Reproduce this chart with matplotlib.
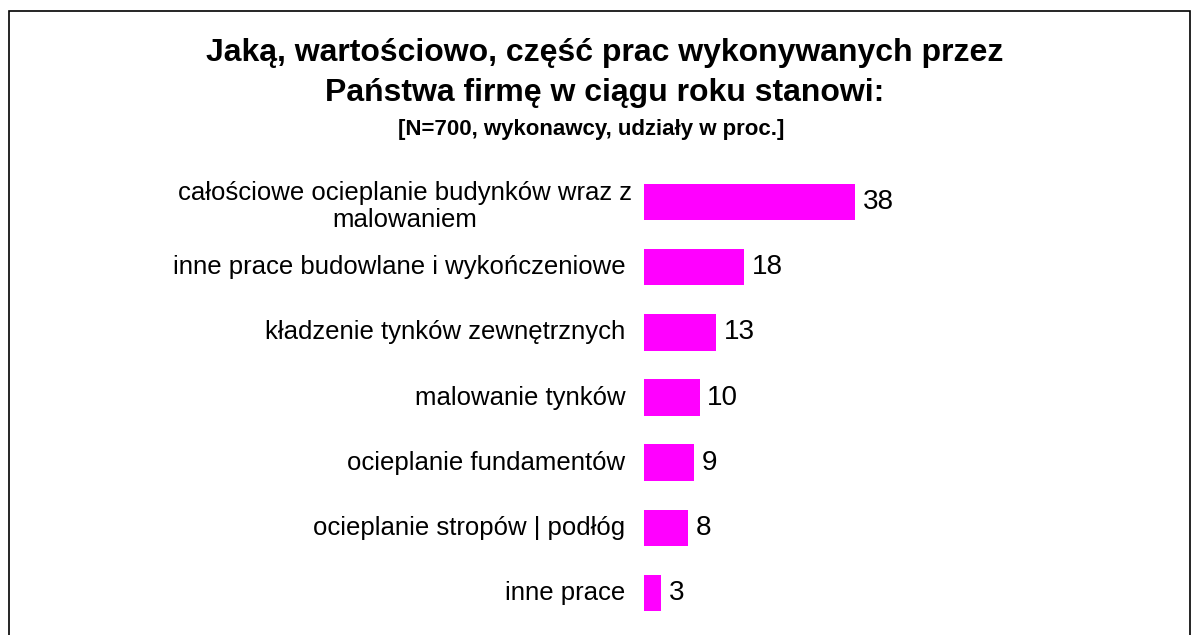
import matplotlib
matplotlib.use('AGG')
import matplotlib.pyplot as plt
from matplotlib.patches import Rectangle

plt.rcParams['font.family'] = ['Liberation Sans', 'DejaVu Sans']

categories = ["całościowe ocieplanie budynków wraz z\nmalowaniem",
              "inne prace budowlane i wykończeniowe",
              "kładzenie tynków zewnętrznych",
              "malowanie tynków",
              "ocieplanie fundamentów",
              "ocieplanie stropów | podłóg",
              "inne prace"]
values = [38, 18, 13, 10, 9, 8, 3]

title1 = "Jaką, wartościowo, część prac wykonywanych przez\nPaństwa firmę w ciągu roku stanowi:"
title2 = "[N=700, wykonawcy, udziały w proc.]"


def main():
    W, H = 1192, 635
    fig = plt.figure(figsize=(W / 100, H / 100), dpi=100)

    # frame around the chart
    fig.patches.append(Rectangle((9 / W, -0.1), (1190 - 9) / W, 1.1 - 11 / H,
                                 transform=fig.transFigure, fill=False,
                                 edgecolor='black', linewidth=1.2))

    left, right = 644, 1150
    top, bottom = 169.4, 625.6
    ax = fig.add_axes([left / W, 1 - bottom / H, (right - left) / W, (bottom - top) / H])
    ax.axis('off')

    ypos = list(range(len(values)))
    ax.barh(ypos, values, height=0.56, color='#FF00FF')
    ax.set_xlim(0, (right - left) / 5.55)
    ax.set_ylim(len(values) - 0.5, -0.5)

    for i, (cat, v) in enumerate(zip(categories, values)):
        ax.text(v + 1.4, i, str(v), va='center', ha='left', fontsize=20)
        if i == 0:
            ax.text(-2.2, i + 0.07, cat, va='center', ha='right',
                    multialignment='center', fontsize=18.5, linespacing=1.15)
        else:
            ax.text(-3.4, i, cat, va='center', ha='right', fontsize=18.5)

    fig.text(605 / W, 1 - 73 / H, title1, ha='center', va='center',
             fontsize=23, fontweight='bold', linespacing=1.45)
    fig.text(591 / W, 1 - 129 / H, title2, ha='center', va='center',
             fontsize=16, fontweight='bold')

    fig.savefig("out.png", dpi=100)


if __name__ == "__main__":
    main()
